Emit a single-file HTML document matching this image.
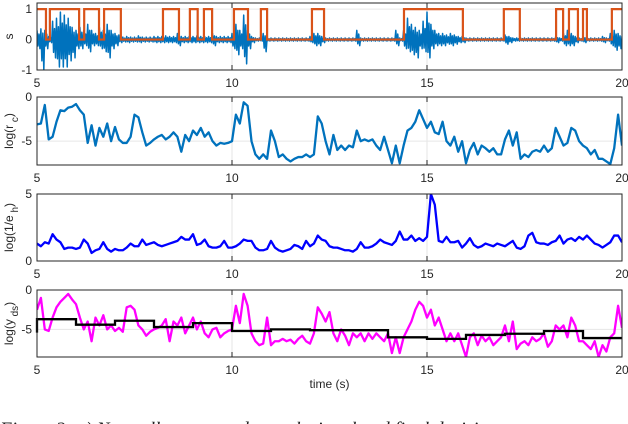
<!DOCTYPE html>
<html><head><meta charset="utf-8">
<style>
html,body{margin:0;padding:0;background:#fff;overflow:hidden}
body{width:628px;height:424px;position:relative;font-family:"Liberation Sans",sans-serif}
#cap{position:absolute;left:0;top:419px;font-family:"Liberation Serif",serif;font-style:italic;font-size:19px;white-space:nowrap;color:#222}
</style></head>
<body>
<svg id="chart" width="628" height="424" style="position:absolute;left:0;top:0"></svg>
<div id="cap">Figure 2: a) Normally processed speech signal and final decisio</div>
<script>
// ---- data ----
const xTicks=[5,10,15,20];
const vadEdges=[5,5.23,5.33,6.08,6.21,6.59,6.72,7.15,8.23,8.64,8.92,9.12,9.28,9.49,10.05,10.41,10.74,10.9,12.05,12.36,14.41,15.92,16.97,17.38,18.31,18.49,18.64,18.87,19.0,19.1,19.74,20];
const audioUpper=[0.3,0.35,0.3,0.1,0.6,0.7,0.9,0.8,0.7,0.4,0.3,0.4,0.3,0.5,0.3,0.2,0.4,0.3,0.5,0.3,0.2,0.15,0.08,0.1,0.08,0.08,0.12,0.08,0.08,0.08,0.1,0.1,0.1,0.12,0.1,0.1,0.2,0.1,0.1,0.1,0.1,0.12,0.1,0.1,0.1,0.2,0.1,0.1,0.1,0.1,0.2,0.5,0.3,0.8,0.3,0.1,0.05,0.05,0.2,0.05,0.05,0.05,0.05,0.05,0.05,0.05,0.05,0.05,0.05,0.05,0.1,0.2,0.2,0.1,0.05,0.05,0.05,0.05,0.05,0.05,0.05,0.05,0.3,0.05,0.05,0.05,0.05,0.05,0.05,0.05,0.05,0.05,0.3,0.05,0.3,0.7,0.5,0.4,0.3,0.6,0.9,0.5,0.3,0.2,0.2,0.15,0.2,0.15,0.1,0.1,0.05,0.05,0.05,0.05,0.05,0.05,0.05,0.05,0.05,0.05,0.15,0.1,0.05,0.05,0.05,0.05,0.05,0.05,0.05,0.05,0.05,0.05,0.05,0.1,0.05,0.2,0.3,0.2,0.1,0.05,0.1,0.05,0.05,0.05,0.05,0.1,0.05,0.2,0.3,0.2,0.1];
const audioLower=[-0.3,-1.0,-0.3,-0.1,-0.6,-0.9,-0.9,-0.9,-0.7,-0.6,-0.3,-0.3,-0.2,-0.4,-0.2,-0.2,-0.3,-0.4,-0.6,-0.3,-0.2,-0.1,-0.08,-0.1,-0.08,-0.08,-0.1,-0.08,-0.08,-0.08,-0.1,-0.1,-0.1,-0.1,-0.1,-0.1,-0.2,-0.1,-0.1,-0.1,-0.1,-0.1,-0.1,-0.1,-0.1,-0.2,-0.1,-0.1,-0.1,-0.1,-0.3,-0.5,-0.3,-0.8,-0.3,-0.1,-0.05,-0.05,-0.4,-0.05,-0.05,-0.05,-0.05,-0.05,-0.05,-0.05,-0.05,-0.05,-0.05,-0.05,-0.1,-0.2,-0.2,-0.1,-0.05,-0.05,-0.05,-0.05,-0.05,-0.05,-0.05,-0.05,-0.2,-0.05,-0.05,-0.05,-0.05,-0.05,-0.05,-0.05,-0.05,-0.05,-0.2,-0.05,-0.3,-0.4,-0.5,-0.6,-0.3,-0.4,-0.6,-0.3,-0.2,-0.2,-0.2,-0.15,-0.2,-0.15,-0.1,-0.1,-0.05,-0.05,-0.05,-0.05,-0.05,-0.05,-0.05,-0.05,-0.05,-0.05,-0.15,-0.1,-0.05,-0.05,-0.05,-0.05,-0.05,-0.05,-0.05,-0.05,-0.05,-0.05,-0.05,-0.1,-0.05,-0.2,-0.2,-0.2,-0.1,-0.05,-0.1,-0.05,-0.05,-0.05,-0.05,-0.1,-0.05,-0.2,-0.35,-0.3,-0.1];
const logRc=[-3.1,-3,-0.9,-4.8,-4.5,-2.8,-1.5,-1.6,-1.2,-1.1,-0.8,-1.5,-2,-5.2,-3.2,-5.5,-3.5,-4.5,-3,-5,-3.4,-4.8,-5.2,-5.2,-4.5,-2,-2.3,-4,-5.5,-5.2,-4.8,-4.5,-4.3,-4.8,-4.5,-4,-4.5,-6.2,-4.3,-5,-3.8,-4.3,-3.5,-4.5,-4,-5,-5.5,-5.2,-5.3,-5.2,-5,-2,-3,-0.6,-1,-5,-6.5,-7,-6.5,-7,-3.8,-5,-6.8,-6.5,-7,-7.3,-7,-6.8,-6.8,-6.5,-6.8,-6.5,-2.2,-3,-5,-6.5,-4.3,-6,-5.5,-6,-5.5,-5.7,-3.8,-5,-4.8,-5,-4.8,-5.5,-6,-4.5,-6,-7.5,-5.5,-7.5,-5.5,-3.8,-3.5,-2.8,-1.5,-2.5,-3.5,-2.8,-4,-4.2,-2.8,-5,-5.5,-4.5,-6.2,-5,-7.5,-6,-5.2,-6.5,-5.5,-5.8,-6.2,-5.8,-6.5,-6.5,-4.8,-3.8,-5.5,-4,-7,-6.5,-6.8,-6.2,-6,-6.2,-5.5,-6.2,-5.8,-3.5,-4.5,-5.5,-5.2,-3.5,-3.8,-5,-5.5,-5.8,-6.5,-6,-7,-7,-7.3,-7.6,-5.8,-2,-5.5];
const logInvEh=[1.3,1.1,1.4,1.3,2.0,1.6,1.4,0.9,1.0,1.0,0.9,1.0,1.6,1.3,0.6,0.8,0.9,1.4,0.9,0.7,0.9,0.8,0.8,1.0,1.3,1.1,1.1,1.6,1.2,1.3,1.4,1.2,1.1,1.2,1.3,1.4,1.5,1.8,1.6,1.6,2.0,1.2,1.3,1.6,1.1,1.0,1.0,1.1,1.5,1.0,1.0,1.1,1.3,1.6,1.5,1.5,1.0,0.8,0.8,0.9,1.5,1.0,0.8,0.7,0.8,0.9,1.2,1.1,0.9,1.5,1.1,1.3,1.9,1.6,1.5,1.1,1.0,1.0,0.9,0.8,0.8,0.7,0.9,1.4,1.0,1.0,1.1,1.3,1.6,1.4,1.3,1.2,1.5,2.2,1.6,1.6,1.9,1.5,1.7,1.5,1.8,5.0,4.2,1.5,1.4,1.8,1.4,1.4,1.5,1.0,1.3,1.7,1.2,1.0,1.1,1.3,1.2,1.1,1.3,1.2,1.1,1.3,1.5,1.0,0.9,1.1,1.9,2.1,1.4,1.3,1.3,1.2,1.4,1.5,1.9,1.3,1.6,1.7,1.5,1.8,1.6,1.9,1.6,1.3,1.2,1.0,1.2,1.4,1.9,1.9,1.4];
const logYds=[-2.5,-1,-5,-5.2,-3.5,-2.2,-1.5,-1,-0.5,-1.2,-1.8,-3.5,-5,-4,-6.5,-3.5,-4.5,-3.2,-5,-4.5,-5.2,-4.8,-5.3,-2.2,-2,-2.5,-4.5,-5,-5.8,-5.3,-5,-4.8,-4.5,-3.7,-6.5,-4,-4.5,-3.5,-5.5,-4.5,-3.5,-5,-4,-5.5,-6,-5,-4.8,-6,-5.5,-5.2,-5,-2,-4.2,-0.5,-2,-5.5,-6.5,-7,-6.8,-3.5,-7,-6.5,-6.5,-6.2,-6.5,-6.3,-6.8,-6.2,-5.8,-6.5,-6.8,-5.5,-2.2,-3,-4,-2.8,-5.5,-6.5,-5,-5.8,-7,-5.5,-6,-5.5,-6.5,-5.5,-6.2,-5.5,-6,-6.5,-5.5,-8,-6,-8,-6,-5,-4,-2.5,-1.5,-2,-3.5,-2.5,-4.5,-3.5,-5,-6.5,-5.5,-6.5,-5.5,-7,-8.5,-6,-5.5,-7,-5.8,-6.5,-6,-7,-6.5,-6,-4.5,-6.5,-4,-7.5,-6.8,-6.5,-7,-6,-6.5,-6.2,-5.5,-7.2,-6.5,-4.5,-5,-4.5,-6,-3.5,-4.5,-6.5,-6.5,-7,-7.5,-6.5,-8.5,-7,-7.8,-6,-5.5,-2,-4.8];
const stepStarts=[5,6,7,8,9,10,11,12,13,14,15,16,17,18,19];
const stepLevels=[-3.7,-4.4,-3.9,-4.7,-4.2,-5.2,-5.0,-5.1,-5.1,-6.0,-6.2,-5.7,-5.55,-5.2,-6.1];

// ---- drawing ----
const svg=document.getElementById('chart');
const NS='http://www.w3.org/2000/svg';
const X0=37,X1=622;
const xs=t=>X0+(t-5)/15*(X1-X0);
function el(tag,attrs,parent){const e=document.createElementNS(NS,tag);for(const k in attrs)e.setAttribute(k,attrs[k]);(parent||svg).appendChild(e);return e;}
const tOf=(i,n)=>5+i*15/(n-1);
const panels=[
 {name:'signal-panel',top:3,bot:70,ymin:-1,ymax:1.2,yt:[-1,0,1],lab:['s','']},
 {name:'rc-panel',top:97,bot:165,ymin:-7.7,ymax:0,yt:[-5,0],lab:['log(r','c',')']},
 {name:'eh-panel',top:194,bot:261,ymin:0,ymax:5,yt:[0,5],lab:['log(1/e','h',')']},
 {name:'yds-panel',top:290,bot:357,ymin:-8.5,ymax:0,yt:[-5,0],lab:['log(y','ds',')']}
];
panels.forEach(p=>{p.ys=v=>p.bot-(v-p.ymin)/(p.ymax-p.ymin)*(p.bot-p.top);});
panels.forEach((p,pi)=>{
 const g=el('g',{});
 
 
 xTicks.forEach(t=>{const l=el('line',{x1:xs(t),x2:xs(t),y1:p.top,y2:p.bot,stroke:'#e6e6e6','stroke-width':1},g);
  const tk=el('text',{x:xs(t),y:p.bot+17,'text-anchor':'middle','font-size':12,fill:'#262626','font-family':'Liberation Sans, sans-serif'},g);tk.textContent=t;
  el('line',{x1:xs(t),x2:xs(t),y1:p.bot,y2:p.bot-5,stroke:'#262626','stroke-width':1},g);
  el('line',{x1:xs(t),x2:xs(t),y1:p.top,y2:p.top+5,stroke:'#262626','stroke-width':1},g);});
 p.yt.forEach(v=>{const y=p.ys(v);const l=el('line',{x1:X0,x2:X1,y1:y,y2:y,stroke:'#e6e6e6','stroke-width':1},g);
  const tk=el('text',{x:X0-5,y:y+4,'text-anchor':'end','font-size':12,fill:'#262626','font-family':'Liberation Sans, sans-serif'},g);tk.textContent=v;});
 const yl=el('text',{transform:`translate(13,${(p.top+p.bot)/2}) rotate(-90)`,'text-anchor':'middle','font-size':12,fill:'#262626','font-family':'Liberation Sans, sans-serif'},g);
 
 yl.appendChild(document.createTextNode(p.lab[0]));
 if(p.lab.length>2){const s=el('tspan',{dy:5,'font-size':10},yl);s.textContent=' '+p.lab[1];const s2=el('tspan',{dy:-5},yl);s2.textContent=p.lab[2];}
 p.g=g;
});
const cp=(p)=>{const id='c'+p.name;const c=el('clipPath',{id:id});el('rect',{x:X0,y:p.top,width:X1-X0,height:p.bot-p.top},c);return `url(#${id})`;};
// panel 1: dense zigzag between envelope values
{const p=panels[0];const n=audioUpper.length;const q=(xs(tOf(1,n))-xs(tOf(0,n)))/4;let d='';
 audioUpper.forEach((v,i)=>{const x=xs(tOf(i,n));const lo=audioLower[i];
  d+=(i?'L':'M')+x+','+p.ys(v)+' L'+(x+q)+','+p.ys(lo*0.7)+' L'+(x+2*q)+','+p.ys(v*0.6)+' L'+(x+3*q)+','+p.ys(lo)+' ';});
 const a=el('path',{d:d,fill:'none',stroke:'#0072BD','stroke-width':1.5,'stroke-linejoin':'round','clip-path':cp(p)},p.g);
 
 let d2='M'+xs(vadEdges[0])+','+p.ys(1);let lvl=1;
 for(let i=1;i<vadEdges.length;i++){d2+=' L'+xs(vadEdges[i])+','+p.ys(lvl);if(i<vadEdges.length-1){lvl=1-lvl;d2+=' L'+xs(vadEdges[i])+','+p.ys(lvl);}}
 const r=el('path',{d:d2,fill:'none',stroke:'#D95319','stroke-width':2.2},p.g);}
function line(p,arr,color,name,w){const d=arr.map((v,i)=>(i?'L':'M')+xs(tOf(i,arr.length))+','+p.ys(v)).join(' ');
 const l=el('path',{d:d,fill:'none',stroke:color,'stroke-width':w||2.3,'stroke-linejoin':'round','clip-path':cp(p)},p.g);
 }
line(panels[1],logRc,'#0072BD','rc-line');
line(panels[2],logInvEh,'#0000FF','eh-line');
line(panels[3],logYds,'#FF00FF','yds-line');
{const p=panels[3];let d='M'+xs(5)+','+p.ys(-5.4);
 stepStarts.forEach((s,i)=>{d+=' L'+xs(s)+','+p.ys(stepLevels[i])+' L'+xs(i<stepStarts.length-1?stepStarts[i+1]:20)+','+p.ys(stepLevels[i]);});
 const s=el('path',{d:d,fill:'none',stroke:'#000','stroke-width':2.3},p.g);}
panels.forEach(p=>{const b=el('rect',{x:X0,y:p.top,width:X1-X0,height:p.bot-p.top,fill:'none',stroke:'#262626','stroke-width':1},p.g);});
const xl=el('text',{x:(X0+X1)/2,y:388,'text-anchor':'middle','font-size':12,fill:'#262626','font-family':'Liberation Sans, sans-serif'});
xl.textContent='time (s)';


</script>
</body></html>
